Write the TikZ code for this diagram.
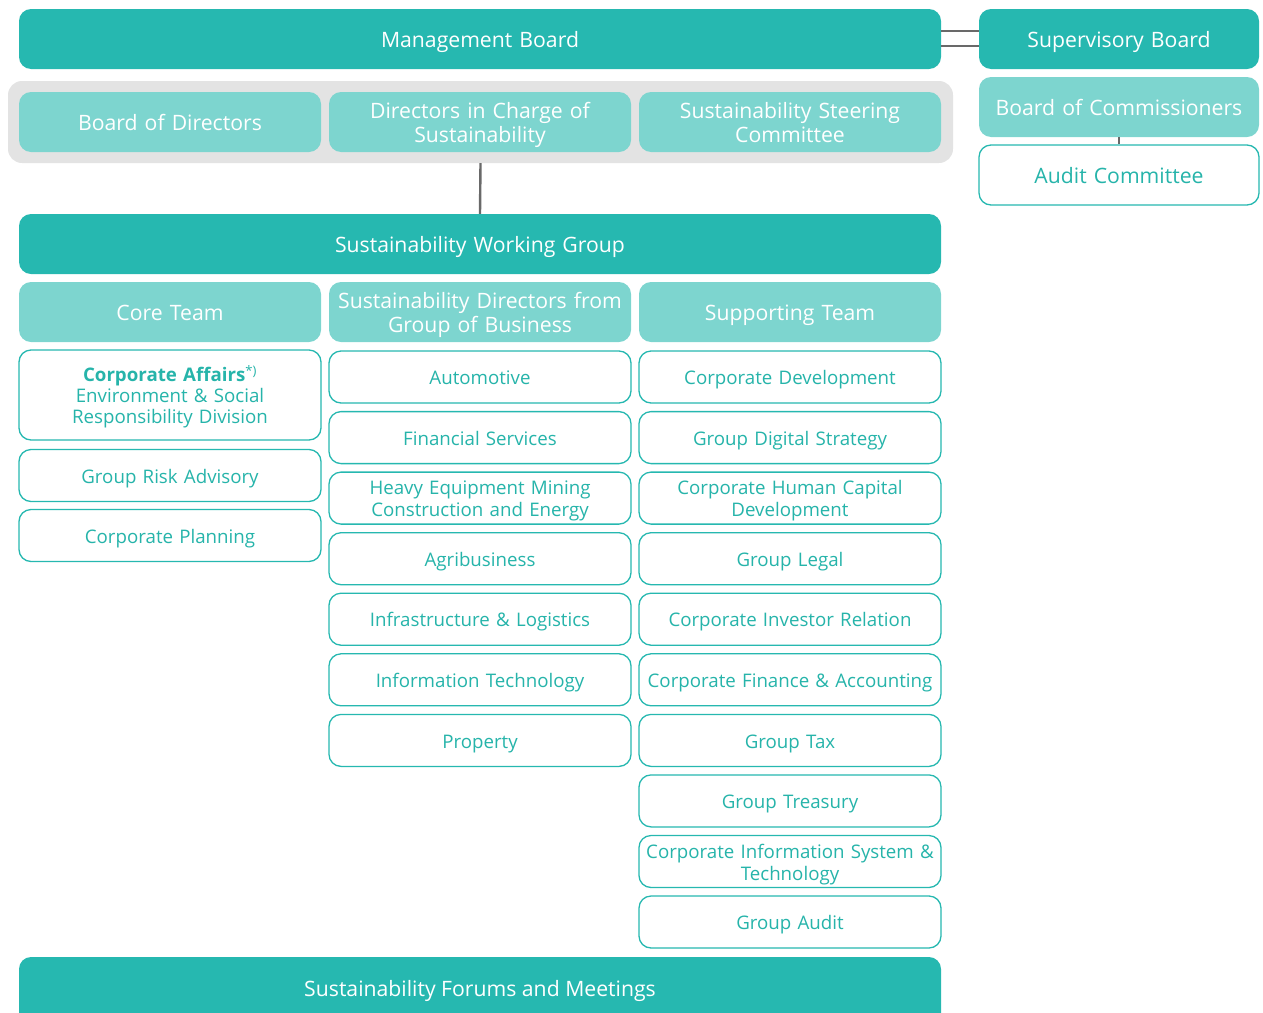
\documentclass[tikz,border=0pt]{standalone}
\usepackage{fontspec}
\setmainfont{Open Sans}
\definecolor{dteal}{RGB}{38,184,176}
\definecolor{lteal}{RGB}{125,213,207}
\definecolor{ttxt}{RGB}{38,180,170}
\definecolor{grpbg}{RGB}{227,227,227}
\definecolor{conng}{RGB}{105,105,105}
\newcommand{\hdf}{\fontsize{21.2}{24}\selectfont}
\newcommand{\clf}{\fontsize{18.7}{22}\selectfont}
\newcommand{\caf}{\fontsize{18.7}{21}\selectfont}
\tikzset{
  base/.style={rounded corners=12pt, inner sep=0pt, align=center, minimum width=302pt, minimum height=60pt, text width=296pt},
  hdone/.style={text height=23pt, text depth=5.3pt},
  hdtwo/.style={text height=23pt, text depth=29.3pt},
  clone/.style={text height=20pt, text depth=4.7pt},
  cltwo/.style={text height=20pt, text depth=26.7pt},
  clthree/.style={text height=20pt, text depth=46.7pt},
  darkbox/.style={base, fill=dteal, text=white, font=\hdf, hdone},
  lightbox/.style={base, fill=lteal, text=white, font=\hdf, hdone},
  whitebox/.style={base, fill=white, draw=dteal, line width=1.3pt, text=ttxt, font=\clf, minimum height=52pt, clone},
  conn/.style={draw=conng, line width=2.4pt},
}
\begin{document}
\begin{tikzpicture}[x=1pt,y=-1pt]
\useasboundingbox (0,0) rectangle (1263,1012);
\clip (0,0) rectangle (1263,1012);
% top row
\node[darkbox, minimum width=922pt, text width=900pt] (mb) at (480,39) {Management Board};
\node[darkbox, minimum width=280pt, text width=270pt] (sb) at (1119,39) {Supervisory Board};
\draw[conn] ([yshift=8pt]mb.east) -- ([yshift=8pt]mb.east -| sb.west);
\draw[conn] ([yshift=-7pt]mb.east) -- ([yshift=-7pt]mb.east -| sb.west);
% group
\node[fill=grpbg, rounded corners=14pt, minimum width=945pt, minimum height=82pt, inner sep=0pt] (grp) at (480.5,122) {};
\node[lightbox] (bod) at (170,122) {Board of Directors};
\node[lightbox, hdtwo] (dcs) at (480,122) {Directors in Charge of\\Sustainability};
\node[lightbox, hdtwo] (ssc) at (790,122) {Sustainability Steering\\Committee};
% right
\node[lightbox, minimum width=280pt, text width=270pt] (boc) at (1119,107) {Board of Commissioners};
\node[whitebox, minimum width=280pt, text width=270pt, minimum height=60pt, font=\hdf, hdone] (ac) at (1119,175) {Audit Committee};
\draw[conn] (boc.south) -- (ac.north);
% working group
\node[darkbox, minimum width=922pt, text width=900pt] (swg) at (480,244) {Sustainability Working Group};
\draw[conn] (grp.south) -- (swg.north);
\node[lightbox] (core) at (170,312) {Core Team};
\node[lightbox, hdtwo] (sdg) at (480,312) {Sustainability Directors from\\Group of Business};
\node[lightbox] (sup) at (790,312) {Supporting Team};
% column 1
\node[whitebox, minimum height=90pt, font=\caf, clthree] (ca) at (170,395) {\textbf{Corporate Affairs}\textsuperscript{*)}\\Environment \& Social\\Responsibility Division};
\node[whitebox] (gra) at (170,475.5) {Group Risk Advisory};
\node[whitebox] (cp) at (170,535.5) {Corporate Planning};
% column 2
\node[whitebox] (auto) at (480,377) {Automotive};
\node[whitebox] (fs) at (480,437.6) {Financial Services};
\node[whitebox, cltwo] (he) at (480,498.1) {Heavy Equipment Mining\\Construction and Energy};
\node[whitebox] (agri) at (480,558.7) {Agribusiness};
\node[whitebox] (il) at (480,619.2) {Infrastructure \& Logistics};
\node[whitebox] (it) at (480,679.8) {Information Technology};
\node[whitebox] (prop) at (480,740.4) {Property};
% column 3
\node[whitebox] (cd) at (790,377) {Corporate Development};
\node[whitebox] (gds) at (790,437.6) {Group Digital Strategy};
\node[whitebox, cltwo] (chc) at (790,498.1) {Corporate Human Capital\\Development};
\node[whitebox] (gl) at (790,558.7) {Group Legal};
\node[whitebox] (cir) at (790,619.2) {Corporate Investor Relation};
\node[whitebox] (cfa) at (790,679.8) {Corporate Finance \& Accounting};
\node[whitebox] (gt) at (790,740.4) {Group Tax};
\node[whitebox] (gtr) at (790,800.9) {Group Treasury};
\node[whitebox, cltwo] (cist) at (790,861.5) {Corporate Information System \&\\Technology};
\node[whitebox] (ga) at (790,922) {Group Audit};
% forums
\fill[dteal, rounded corners=12pt] (19,957) rectangle (941,1045);
\node[font=\hdf, text=white, inner sep=0pt, hdone] (forum) at (480,988) {Sustainability Forums and Meetings};
\end{tikzpicture}
\end{document}
